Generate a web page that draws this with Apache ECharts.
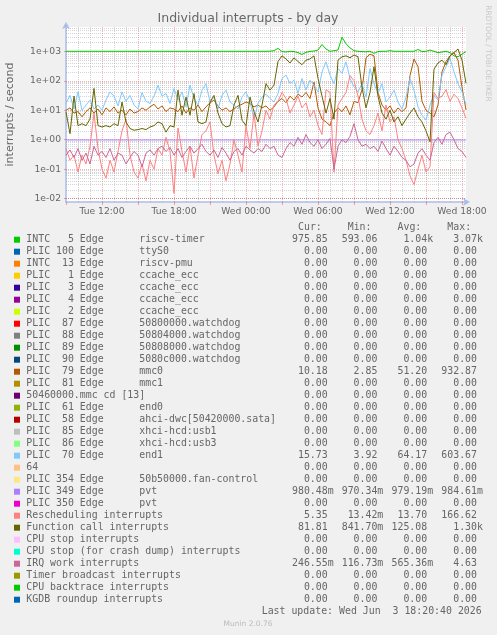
<!DOCTYPE html>
<html><head><meta charset="utf-8">
<script src="https://cdn.jsdelivr.net/npm/echarts@6/dist/echarts.min.js"></script>
<style>html,body{margin:0;padding:0;background:#f0f0f0;}#c{width:497px;height:635px;}</style>
</head><body><div id="c"></div>
<script>
// ---- time sampling (hours since Tue 00:00), one sample every 20 minutes ----
const START_HOUR = 9;
const STEP_HOURS = 1 / 3;
const END_HOUR = 42 + 1 / 3;

// ---- x tick labels ----
const xLabelHours = [12, 18, 24, 30, 36, 42];
const xLabelTexts = ['Tue 12:00', 'Tue 18:00', 'Wed 00:00', 'Wed 06:00', 'Wed 12:00', 'Wed 18:00'];

// ---- series values (interrupts / second) ----
const timerVals = [
  1000,1000,1000,1000,1000,1000,1000,1000,1000,1000,
  1000,1000,1000,1000,1000,1000,1000,1000,1000,1000,
  1000,1000,1000,1000,1000,1000,1000,1000,1000,1000,
  1000,1000,1000,1000,1000,1000,1000,1000,1000,1000,
  1000,1000,1000,1000,1000,1000,1000,1000,1000,1000,
  1000,1010,1050,1250,980,950,1000,980,900,780,
  920,1000,1020,1100,1700,1200,1000,1050,1100,3000,
  1800,1300,1050,1000,980,960,1000,850,980,1000,
  1000,1050,1000,1000,1000,1000,1000,1000,1150,980,
  1000,1100,1000,900,950,1000,900,700,650,800,976
];
const mmc0Vals = [
  10,12,8,9,6,9,12,8,11,7, 12,9,13,8,10,7,11,8,9,12, 10,13,16,11,14,9,12,
  11,9,14,8,12,10,15,9,13,18, 22,14,10,12,9,11,14,16,19,17, 13,15,12,14,10,13,
  20,25,18,30,22,35,28,40,25,90, 12,5,4,3,8,12,9,14,7,20, 18,
  50,600,800,700,40,15,10,14,8,12, 9,12,150,550,300,20,10,8,6,15, 200,450,700,900,500,60,10.18
];
const end1Vals = [
  17,32,11,42,10,15,22,11,15,10, 22,42,30,14,42,20,32,15,11,40, 20,17,30,70,30,37,17,
  55,22,42,13,71,25,15,48,80,19, 28,11,32,48,19,15,11,28,42,19, 5,17,28,35,25,19,
  37,120,155,80,105,37,120,48,105,71, 42,200,440,155,80,260,180,440,120,62, 42,80,
  28,260,80,37,80,19,28,48,19,11, 28,120,48,13,6.8,4.6,15,32,22,155, 300,575,200,80,42,15.73
];
const pvtVals = [
  0.98,0.978,0.981,0.979,0.98,0.982,0.977,0.98,0.979,0.981,
  0.98,0.978,0.98,0.983,0.979,0.98,0.977,0.981,0.98,0.979,
  0.98,0.982,0.978,0.98,0.979,0.981,0.98,0.977,0.98,0.982,
  0.979,0.98,0.978,0.981,0.98,0.979,0.98,0.983,0.978,0.98,
  0.979,0.981,0.98,0.978,0.98,0.982,0.979,0.98,0.977,0.981,
  0.98,0.979,0.98,0.982,0.978,0.98,0.981,0.979,0.98,0.984,
  0.978,0.98,0.979,0.981,0.98,0.971,0.98,0.982,0.979,0.98,
  0.978,0.981,0.98,0.979,0.98,0.982,0.978,0.98,0.979,0.981,
  0.98,0.978,0.98,0.983,0.979,0.98,0.977,0.981,0.98,0.979,
  0.98,0.982,0.978,0.98,0.979,0.981,0.98,0.977,0.98,0.982,0.9805
];
const reschedVals = [
  0.5,0.2,0.3,0.08,0.3,0.15,0.6,8,0.5,0.1, 0.05,0.2,0.08,0.4,2,5,0.3,0.08,0.05,0.15, 0.04,0.2,0.1,0.5,0.3,1.2,0.4,
  0.015,2.5,0.4,0.08,0.6,0.05,0.3,1.5,2,4, 0.3,0.07,0.2,0.04,0.15,1,0.3,0.08,3,0.5, 8,0.6,2,10,5,15,
  20,40,25,8,15,30,12,18,6,10, 3,1.5,50,40,0.08,15,25,40,150,100, 30,5,2,1.5,
  3,8,2,15,4,6,1,0.5,0.2,0.06, 0.03,0.1,0.3,0.08,0.12,40,25,30,50,20, 35,25,12,5.35
];
const funcVals = [
  8.8,1.6,30,3,3.5,3,5,55,3,2.7, 3,2.7,3.5,3,19,4,2.4,2.1,2.2,2.4, 2.2,2.7,3,4,3.5,1.8,3,
  2.7,48,6.8,28,6.8,37,4,3.5,4,19, 32,8,3.5,2.7,3,15,32,4.6,3,28, 8.8,4,15,80,48,71,
  450,700,550,400,600,450,350,500,550,700, 120,30,8,25,5,500,650,700,600,750,
  650,60,12,40,300,30,8,5,10,4, 6,3,5,8,12,6,4,2,0.85,250, 400,500,350,700,900,1200,500,81.81
];
const irqVals = [
  0.3,0.45,0.25,0.5,0.2,0.35,0.15,0.6,0.3,0.4, 0.25,0.5,0.2,0.35,0.3,0.15,0.25,0.4,0.3,0.12, 0.35,0.45,0.3,0.5,0.6,0.4,0.55,
  0.3,0.5,0.25,0.4,0.6,0.35,0.5,0.7,0.4,0.3, 0.45,0.25,0.55,0.35,0.2,0.4,0.5,0.3,0.6,0.45, 0.35,0.5,0.4,0.7,0.5,0.6,
  0.3,0.25,0.5,0.8,0.6,1.2,0.7,1.5,0.8,0.6, 1.0,0.5,0.7,1.1,0.1,0.6,1.0,0.8,1.3,3.5, 1.0,0.6,0.7,0.5,
  0.6,0.4,0.9,0.5,0.3,0.6,0.4,0.25,0.2,0.12, 0.15,0.35,0.5,0.3,0.2,0.8,1.2,0.7,1.5,1.8, 1.0,0.5,0.4,0.25
];

// ---- legend table ----
const legendLabels = [
  'INTC   5 Edge      riscv-timer',
  'PLIC 100 Edge      ttyS0',
  'INTC  13 Edge      riscv-pmu',
  'PLIC   1 Edge      ccache_ecc',
  'PLIC   3 Edge      ccache_ecc',
  'PLIC   4 Edge      ccache_ecc',
  'PLIC   2 Edge      ccache_ecc',
  'PLIC  87 Edge      50800000.watchdog',
  'PLIC  88 Edge      50804000.watchdog',
  'PLIC  89 Edge      50808000.watchdog',
  'PLIC  90 Edge      5080c000.watchdog',
  'PLIC  79 Edge      mmc0',
  'PLIC  81 Edge      mmc1',
  '50460000.mmc cd [13]',
  'PLIC  61 Edge      end0',
  'PLIC  58 Edge      ahci-dwc[50420000.sata]',
  'PLIC  85 Edge      xhci-hcd:usb1',
  'PLIC  86 Edge      xhci-hcd:usb3',
  'PLIC  70 Edge      end1',
  '64',
  'PLIC 354 Edge      50b50000.fan-control',
  'PLIC 349 Edge      pvt',
  'PLIC 350 Edge      pvt',
  'Rescheduling interrupts',
  'Function call interrupts',
  'CPU stop interrupts',
  'CPU stop (for crash dump) interrupts',
  'IRQ work interrupts',
  'Timer broadcast interrupts',
  'CPU backtrace interrupts',
  'KGDB roundup interrupts'
];
const legendColors = [
  '#00CC00','#0066B3','#FF8000','#FFCC00','#330099','#990099','#CCFF00','#FF0000',
  '#808080','#008F00','#00487D','#B35A00','#B38F00','#6B006B','#8FB300','#B30000',
  '#BEBEBE','#80FF80','#80C9FF','#FFC080','#FFE680','#AA80FF','#EE00CC','#FF8080',
  '#666600','#FFBFFF','#00FFCC','#CC6699','#999900','#00CC00','#0066B3'
];
const curVals = ['975.85','0.00','0.00','0.00','0.00','0.00','0.00','0.00','0.00','0.00','0.00',
  '10.18','0.00','0.00','0.00','0.00','0.00','0.00','15.73','0.00','0.00','980.48m','0.00',
  '5.35','81.81','0.00','0.00','246.55m','0.00','0.00','0.00'];
const minVals = ['593.06','0.00','0.00','0.00','0.00','0.00','0.00','0.00','0.00','0.00','0.00',
  '2.85','0.00','0.00','0.00','0.00','0.00','0.00','3.92','0.00','0.00','970.34m','0.00',
  '13.42m','841.70m','0.00','0.00','116.73m','0.00','0.00','0.00'];
const avgVals = ['1.04k','0.00','0.00','0.00','0.00','0.00','0.00','0.00','0.00','0.00','0.00',
  '51.20','0.00','0.00','0.00','0.00','0.00','0.00','64.17','0.00','0.00','979.19m','0.00',
  '13.70','125.08','0.00','0.00','565.36m','0.00','0.00','0.00'];
const maxVals = ['3.07k','0.00','0.00','0.00','0.00','0.00','0.00','0.00','0.00','0.00','0.00',
  '932.87','0.00','0.00','0.00','0.00','0.00','0.00','603.67','0.00','0.00','984.61m','0.00',
  '166.62','1.30k','0.00','0.00','4.63','0.00','0.00','0.00'];
const columnHeads = ['Cur:', 'Min:', 'Avg:', 'Max:'];
const lastUpdate = 'Last update: Wed Jun  3 18:20:40 2026';

// ---- plotted series (drawing order as in the graph) ----
const plotted = [
  { name: 'riscv-timer', color: '#00CC00', vals: timerVals },
  { name: 'mmc0', color: '#B35A00', vals: mmc0Vals },
  { name: 'end1', color: '#80C9FF', vals: end1Vals },
  { name: 'pvt', color: '#AA80FF', vals: pvtVals },
  { name: 'Rescheduling interrupts', color: '#FF8080', vals: reschedVals },
  { name: 'Function call interrupts', color: '#666600', vals: funcVals },
  { name: 'IRQ work interrupts', color: '#CC6699', vals: irqVals }
];

const Y_MIN = 0.0077, Y_MAX = 6670;
const FONT_COLOR = '#666666';
const AXIS_COLOR = '#aabde9';
const majorStyle = { color: 'rgba(222,79,79,0.42)', width: 1, type: [1, 1] };
const minorStyle = { color: 'rgba(143,143,143,0.38)', width: 1, type: [1, 1] };

const gridLines = [];
for (let h = Math.ceil(START_HOUR + 0.5); h <= Math.floor(END_HOUR); h++) {
  gridLines.push({ xAxis: h, lineStyle: (h % 3 === 0) ? majorStyle : minorStyle });
}
for (let e = -3; e <= 3; e++) {
  for (let m = 1; m <= 9; m++) {
    const v = m * Math.pow(10, e);
    if (v <= Y_MIN || v >= Y_MAX) continue;
    gridLines.push({ yAxis: v, lineStyle: m === 1 ? majorStyle : minorStyle });
  }
}

const series = [{
  type: 'line', data: [], silent: true, z: 1,
  markLine: {
    silent: true, z: 1, symbol: ['none', 'none'], label: { show: false },
    animation: false, emphasis: { disabled: true }, data: gridLines
  }
}];
plotted.forEach(p => {
  series.push({
    name: p.name, type: 'line', z: 2,
    data: p.vals.map((v, i) => [START_HOUR + i * STEP_HOURS, v]),
    showSymbol: false, symbol: 'none',
    lineStyle: { color: p.color, width: 1 },
    itemStyle: { color: p.color },
    emphasis: { disabled: true }, silent: true
  });
});

// ---- legend graphics ----
const MONO = '"DejaVu Sans Mono", monospace';
const LEG_FS = 9.9;
const ROW0 = 239.7, ROW_H = 12;
const colX = [292, 341.7, 391.5, 441.3];
function fmtVal(s) {
  const last = s[s.length - 1];
  if (/[a-zA-Z]/.test(last)) return s.slice(0, -1).padStart(6, ' ') + last;
  return s.padStart(6, ' ');
}
const graphics = [];
graphics.push({ type: 'text', x: 248, y: 19, style: { text: 'Individual interrupts - by day', font: '12.5px "DejaVu Sans"', fill: FONT_COLOR, align: 'center', verticalAlign: 'middle' } });
graphics.push({ type: 'text', x: 10, y: 114.5, rotation: Math.PI / 2, style: { text: 'interrupts / second', font: '11px "DejaVu Sans"', fill: FONT_COLOR, align: 'center', verticalAlign: 'middle' } });
graphics.push({ type: 'text', x: 488, y: 53.5, rotation: -Math.PI / 2, style: { text: 'RRDTOOL / TOBI OETIKER', font: '7.5px "DejaVu Sans"', fill: '#c8c8c8', align: 'center', verticalAlign: 'middle' } });
columnHeads.forEach((h, c) => {
  graphics.push({ type: 'text', x: colX[c] + 6, y: 227.3, style: { text: h, font: LEG_FS + 'px ' + MONO, fill: FONT_COLOR, align: 'left', verticalAlign: 'middle' } });
});
legendLabels.forEach((lab, k) => {
  const y = ROW0 + k * ROW_H;
  graphics.push({ type: 'rect', shape: { x: 14, y: y - 3, width: 6, height: 6 }, style: { fill: legendColors[k] } });
  graphics.push({ type: 'text', x: 26.3, y: y, style: { text: lab, font: LEG_FS + 'px ' + MONO, fill: FONT_COLOR, align: 'left', verticalAlign: 'middle' } });
  [curVals, minVals, avgVals, maxVals].forEach((col, c) => {
    graphics.push({ type: 'text', x: colX[c], y: y, style: { text: fmtVal(col[k]), font: LEG_FS + 'px ' + MONO, fill: FONT_COLOR, align: 'left', verticalAlign: 'middle' } });
  });
});
graphics.push({ type: 'text', x: 261.7, y: 611.3, style: { text: lastUpdate, font: LEG_FS + 'px ' + MONO, fill: FONT_COLOR, align: 'left', verticalAlign: 'middle' } });
graphics.push({ type: 'text', x: 248, y: 624.3, style: { text: 'Munin 2.0.76', font: '7.5px "DejaVu Sans"', fill: '#bbbbbb', align: 'center', verticalAlign: 'middle' } });

const chart = echarts.init(document.getElementById('c'), null, { renderer: 'canvas' });
chart.setOption({
  animation: false,
  backgroundColor: '#f0f0f0',
  grid: { left: 66, top: 27, width: 400, height: 175, show: true, backgroundColor: '#ffffff', borderWidth: 0, containLabel: false },
  xAxis: {
    type: 'value', min: START_HOUR, max: END_HOUR, interval: 3,
    axisLine: { show: true, lineStyle: { color: AXIS_COLOR, width: 1.5 }, symbol: ['none', 'arrow'], symbolSize: [6, 7], symbolOffset: [0, 4] },
    axisTick: { show: true, length: 3, lineStyle: { color: 'rgba(222,79,79,0.5)' } },
    minorTick: { show: false },
    splitLine: { show: false },
    axisLabel: {
      interval: 0, margin: 5, color: FONT_COLOR, fontFamily: 'DejaVu Sans', fontSize: 9.2,
      showMinLabel: true, showMaxLabel: false, hideOverlap: false,
      formatter: v => { const k = xLabelHours.findIndex(h => Math.abs(h - v) < 1e-6); return k >= 0 ? xLabelTexts[k] : ''; }
    }
  },
  yAxis: {
    type: 'log', logBase: 10, min: Y_MIN, max: Y_MAX,
    axisLine: { show: true, lineStyle: { color: AXIS_COLOR, width: 1.5 }, symbol: ['none', 'arrow'], symbolSize: [6, 7], symbolOffset: [0, 5] },
    axisTick: { show: true, length: 2, lineStyle: { color: 'rgba(222,79,79,0.5)' } },
    splitLine: { show: false },
    axisLabel: {
      margin: 5, color: FONT_COLOR, fontFamily: 'DejaVu Sans', fontSize: 9.2,
      showMinLabel: false, showMaxLabel: false,
      formatter: v => { const e = Math.round(Math.log10(v)); if (Math.abs(Math.log10(v) - e) > 0.01) return ''; return '1e' + (e < 0 ? '-' : '+') + String(Math.abs(e)).padStart(2, '0'); }
    }
  },
  series: series,
  graphic: graphics
});
</script>
</body></html>
